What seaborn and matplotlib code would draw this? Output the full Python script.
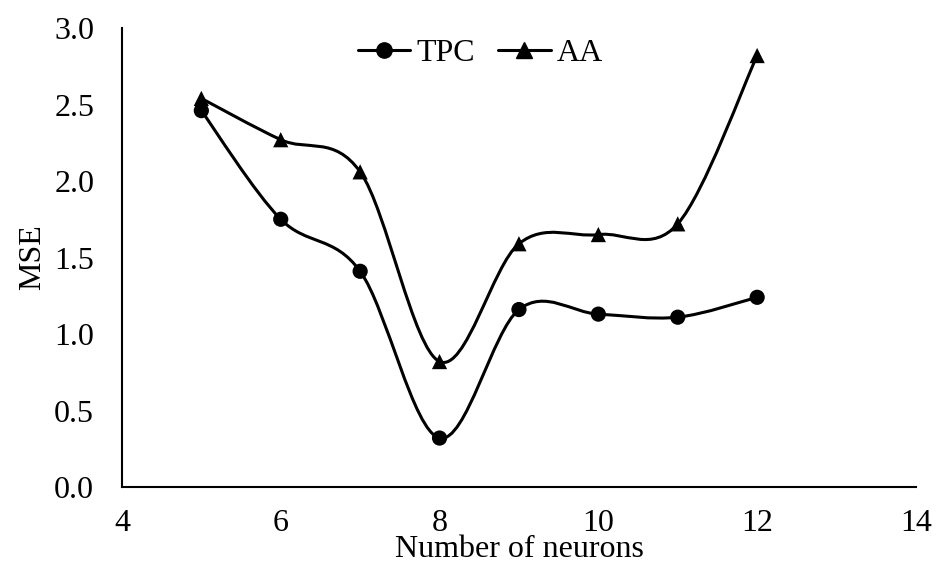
import numpy as np
import pandas as pd
import matplotlib
matplotlib.use("Agg")
import matplotlib.pyplot as plt
from matplotlib.path import Path
from matplotlib.patches import PathPatch
from matplotlib.lines import Line2D
import seaborn as sns

neurons = [5, 6, 7, 8, 9, 10, 11, 12]
tpc = [2.46, 1.75, 1.41, 0.32, 1.16, 1.13, 1.11, 1.24]
aa = [2.54, 2.27, 2.06, 0.82, 1.59, 1.65, 1.72, 2.82]
series_names = ["TPC", "AA"]
xticks = [4, 6, 8, 10, 12, 14]
yticks = [0.0, 0.5, 1.0, 1.5, 2.0, 2.5, 3.0]

sns.set_theme(style="white")
plt.rcParams["font.family"] = ["Liberation Serif", "DejaVu Serif"]
plt.rcParams["text.color"] = "black"

fig = plt.figure(figsize=(9.38, 5.8), dpi=100)
ax = fig.add_axes([0.130, 0.1603, 0.8465, 0.7914])

df = pd.DataFrame({
    "x": neurons * 2,
    "y": tpc + aa,
    "series": [series_names[0]] * len(tpc) + [series_names[1]] * len(aa),
})


def smooth_path(xs, ys):
    pts = np.column_stack([xs, ys]).astype(float)
    n = len(pts)
    verts = [pts[0]]
    codes = [Path.MOVETO]
    for i in range(n - 1):
        p0 = pts[i - 1] if i > 0 else pts[i]
        p1 = pts[i]
        p2 = pts[i + 1]
        p3 = pts[i + 2] if i + 2 < n else pts[i + 1]
        c1 = p1 + (p2 - p0) / 6.0
        c2 = p2 - (p3 - p1) / 6.0
        verts += [c1, c2, p2]
        codes += [Path.CURVE4] * 3
    return Path(verts, codes)


lw = 2.2
for name, vals in zip(series_names, [tpc, aa]):
    patch = PathPatch(smooth_path(neurons, vals), facecolor="none",
                      edgecolor="black", lw=lw, transform=ax.transData,
                      capstyle="round", joinstyle="round", zorder=2)
    ax.add_patch(patch)

sns.scatterplot(data=df, x="x", y="y", style="series",
                markers={"TPC": "o", "AA": "^"}, color="black",
                s=120, edgecolor="black", linewidth=0, ax=ax,
                legend=False, zorder=3)

fs = 23
ax.set_xlim(4, 14)
ax.set_ylim(0, 3.0)
ax.set_xticks(xticks)
ax.set_xticklabels([str(t) for t in xticks])
ax.set_yticks(yticks)
ax.set_yticklabels([f"{t:.1f}" for t in yticks])
ax.tick_params(axis="y", labelsize=fs, length=0, pad=20, colors="black")
ax.tick_params(axis="x", labelsize=fs, length=0, pad=16, colors="black")
ax.set_xlabel("Number of neurons", fontsize=fs, color="black", labelpad=-2)
ax.set_ylabel("MSE", fontsize=fs, color="black", labelpad=5)

for s in ["top", "right"]:
    ax.spines[s].set_visible(False)
for s in ["left", "bottom"]:
    ax.spines[s].set_color("black")
    ax.spines[s].set_linewidth(1.5)
ax.grid(False)

handles = [
    Line2D([], [], color="black", lw=lw, marker="o", markersize=11),
    Line2D([], [], color="black", lw=lw, marker="^", markersize=11),
]
ax.legend(handles, series_names, loc="center", bbox_to_anchor=(0.4515, 0.944),
          ncol=2, frameon=False, fontsize=fs, handlelength=1.65,
          handletextpad=0.2, columnspacing=0.7, borderaxespad=0,
          labelcolor="black")

fig.savefig("out.png", dpi=100)
